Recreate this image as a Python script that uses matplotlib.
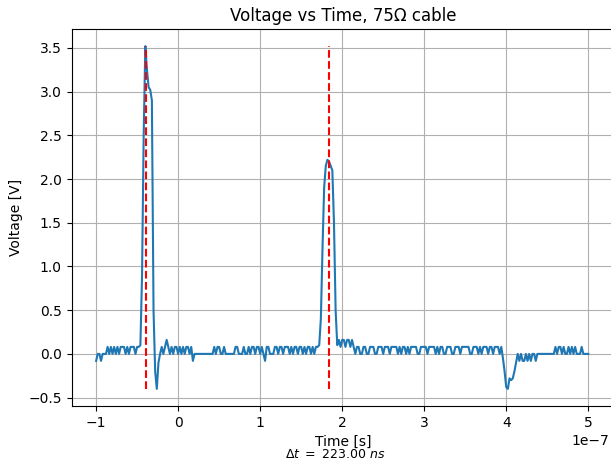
import numpy as np
import matplotlib
matplotlib.use("Agg")
import matplotlib.pyplot as plt

# Sampling grid of the scope trace (ns)
t_start_ns = -100.0
t_step_ns = 2.0

# Measured voltage samples [V], one every 2 ns starting at -100 ns
volts = [
    # -100 .. -62
    -0.08, 0.0, 0.0, -0.08, 0.0, 0.0, 0.0, 0.08, 0.0, 0.08,
    0.0, 0.08, 0.0, 0.08, 0.0, 0.08, 0.08, 0.08, 0.0, 0.08,
    # -60 .. -22
    0.0, 0.08, 0.08, 0.08, 0.0, 0.08, 0.08, 0.1, 0.9, 2.5,
    3.52, 3.25, 3.05, 3.02, 2.9, 0.5, -0.2, -0.4, -0.1, 0.0,
    # -20 .. 18
    0.08, 0.0, 0.08, 0.16, 0.08, 0.0, 0.08, 0.0, 0.08, 0.08,
    0.0, 0.08, 0.0, 0.08, 0.0, 0.08, 0.08, 0.0, 0.08, -0.08,
    # 20 .. 58
    0.0, 0.0, 0.0, 0.0, 0.0, 0.0, 0.0, 0.0, 0.0, 0.0,
    0.0, 0.0, 0.08, 0.0, 0.08, 0.08, 0.0, 0.0, 0.08, 0.0,
    # 60 .. 98
    0.0, 0.0, 0.0, 0.0, 0.0, 0.08, 0.08, 0.0, 0.0, 0.0,
    0.08, 0.0, 0.0, 0.08, 0.0, 0.08, 0.08, 0.0, 0.08, 0.08,
    # 100 .. 138
    0.0, 0.08, 0.0, -0.08, 0.08, 0.08, 0.0, 0.0, 0.0, 0.08,
    0.08, 0.0, 0.08, 0.08, 0.0, 0.08, 0.08, 0.08, 0.0, 0.08,
    # 140 .. 178
    0.0, 0.08, 0.08, 0.0, 0.08, 0.08, 0.0, 0.08, 0.0, 0.08,
    0.08, 0.0, 0.08, 0.0, 0.08, 0.08, 0.1, 0.4, 1.2, 1.9,
    # 180 .. 218
    2.15, 2.22, 2.2, 2.15, 2.1, 1.5, 0.5, 0.1, 0.16, 0.08,
    0.16, 0.16, 0.08, 0.16, 0.16, 0.08, 0.16, 0.08, 0.0, 0.08,
    # 220 .. 258
    0.08, 0.0, 0.0, 0.08, 0.08, 0.0, 0.0, 0.08, 0.08, 0.08,
    0.0, 0.0, 0.08, 0.08, 0.08, 0.0, 0.08, 0.08, 0.08, 0.0,
    # 260 .. 298
    0.08, 0.08, 0.08, 0.08, 0.0, 0.08, 0.0, 0.08, 0.08, 0.0,
    0.08, 0.0, 0.08, 0.08, 0.08, 0.08, 0.0, 0.0, 0.08, 0.08,
    # 300 .. 338
    0.08, 0.08, 0.0, 0.08, 0.08, 0.08, 0.08, 0.0, 0.08, 0.0,
    0.08, 0.08, 0.0, 0.0, 0.08, 0.08, 0.08, 0.0, 0.0, 0.08,
    # 340 .. 378
    0.08, 0.08, 0.0, 0.08, 0.08, 0.08, 0.08, 0.08, 0.0, 0.0,
    0.08, 0.08, 0.08, 0.0, 0.08, 0.0, 0.08, 0.08, 0.08, 0.0,
    # 380 .. 418
    0.08, 0.08, 0.0, 0.08, 0.08, 0.08, 0.0, 0.08, -0.05, -0.2,
    -0.38, -0.4, -0.28, -0.3, -0.28, -0.2, -0.1, 0.0, -0.08, 0.0,
    # 420 .. 458
    -0.08, -0.08, 0.0, -0.08, 0.0, -0.08, 0.0, 0.0, -0.08, 0.0,
    0.0, 0.0, 0.0, 0.0, 0.0, 0.0, 0.0, 0.0, 0.0, 0.0,
    # 460 .. 500
    0.08, 0.0, 0.08, 0.08, 0.0, 0.08, 0.0, 0.0, 0.08, 0.0,
    0.08, 0.0, 0.08, 0.0, 0.0, 0.0, 0.08, 0.0, 0.0, 0.0,
    0.0,
]

# Peak times (ns)
peak_times_ns = [-39.0, 184.0]

v = np.array(volts)
t = (t_start_ns + t_step_ns * np.arange(len(v))) * 1e-9
peaks = np.array(peak_times_ns) * 1e-9
dt_ns = (peaks[1] - peaks[0]) * 1e9

W, H = 611, 463
ax_left, ax_w = 71.5, 543
fig = plt.figure(figsize=(W / 100, H / 100), dpi=100)
ax = fig.add_axes([ax_left / W, (H - 406) / H, ax_w / W, 377 / H])

ax.plot(t, v, color="C0", lw=1.5)
ax.vlines(peaks, v.min(), v.max(), colors="r", linestyles="--", lw=1.5)
ax.grid(True)
ax.set_xlim(-1.3e-7, 5.32e-7)
ax.set_title("Voltage vs Time, 75\u03a9 cable")
ax.set_xlabel("Time [s]")
ax.set_ylabel("Voltage [V]")
ax.set_yticks([-0.5, 0.0, 0.5, 1.0, 1.5, 2.0, 2.5, 3.0, 3.5])
ax.xaxis.get_offset_text().set_x((609 - ax_left) / ax_w)
fig.text(335 / W, 1 - 455 / H, r"$\Delta t\ =\ %.2f\ ns$" % dt_ns,
         ha="center", va="center", fontsize=9)

fig.savefig("out.png", dpi=100)
